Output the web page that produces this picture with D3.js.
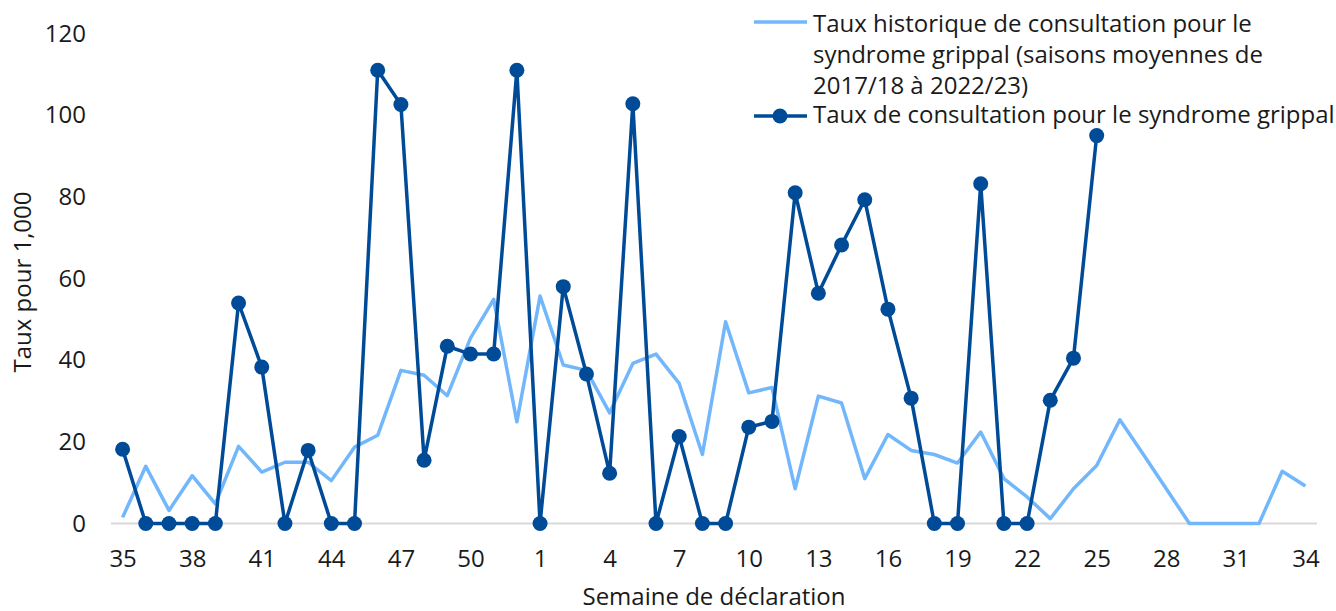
<!DOCTYPE html>
<html>
<head>
<meta charset="utf-8">
<script src="https://cdn.jsdelivr.net/npm/d3@7"></script>
<style>
  body { margin: 0; background: #fff; }
  svg { font-family: 'Open Sans', sans-serif; }
  text { fill: #1a1a1a; }
</style>
</head>
<body>
<svg></svg>
<script>
var width = 1336, height = 611;

// semaines 35..52 puis 1..34
var weeks = ['35','36','37','38','39','40','41','42','43','44','45','46','47','48','49','50','51','52',
  '1','2','3','4','5','6','7','8','9','10','11','12','13','14','15','16','17','18','19','20',
  '21','22','23','24','25','26','27','28','29','30','31','32','33','34'];

var historique = [1.5,14,3.2,11.7,4.8,18.9,12.6,15,15,10.5,18.7,21.6,37.5,36.3,31.3,45.4,54.9,24.9,
  55.7,38.8,37.5,27.1,39.2,41.5,34.3,16.9,49.4,32,33.3,8.5,31.2,29.5,11,21.8,17.9,16.9,14.8,22.4,
  11,6.5,1.2,8.5,14.2,25.4,17,8.5,0,0,0,0,12.8,9.2];

var courant = [18.2,0,0,0,0,54,38.3,0,17.9,0,0,111,102.6,15.5,43.4,41.5,41.5,111,
  0,58,36.6,12.3,102.8,0,21.3,0,0,23.6,25,81,56.4,68.2,79.3,52.5,30.7,0,0,83.2,
  0,0,30.2,40.5,95,null,null,null,null,null,null,null,null,null];

var yTicks = [0, 20, 40, 60, 80, 100, 120];
var xTickWeeks = weeks.filter((d, i) => i % 3 === 0);

var legendLabels = [
  ['Taux historique de consultation pour le', 'syndrome grippal (saisons moyennes de', '2017/18 à 2022/23)'],
  ['Taux de consultation pour le syndrome grippal']
];

var lightBlue = '#72b7fb';
var darkBlue = '#004b98';
var fs = 24;

var svg = d3.select('svg')
    .attr('width', width)
    .attr('height', height);

var x = d3.scalePoint().domain(weeks).range([111, 1317]).padding(0.5);
var y = d3.scaleLinear().domain([0, 120]).range([523.5, 33.5]);

// grille / axe du zéro
svg.append('line')
    .attr('x1', 111).attr('x2', 1317)
    .attr('y1', y(0)).attr('y2', y(0))
    .attr('stroke', '#d9d9d9').attr('stroke-width', 2);

// axe Y
var yAxis = svg.append('g')
    .attr('transform', 'translate(86,0)')
    .call(d3.axisLeft(y).tickValues(yTicks).tickSize(0).tickPadding(0));
yAxis.select('.domain').remove();
yAxis.selectAll('text')
    .attr('font-size', fs).attr('font-family', 'Open Sans').attr('fill', '#1a1a1a');

// axe X
var xAxis = svg.append('g')
    .attr('transform', `translate(0,${y(0)})`)
    .call(d3.axisBottom(x).tickValues(xTickWeeks).tickSize(0).tickPadding(26));
xAxis.select('.domain').remove();
xAxis.selectAll('text')
    .attr('font-size', fs).attr('font-family', 'Open Sans').attr('fill', '#1a1a1a');

// titres d'axes
svg.append('text')
    .attr('x', 714).attr('y', 605)
    .attr('text-anchor', 'middle')
    .attr('font-size', fs)
    .text('Semaine de déclaration');

svg.append('text')
    .attr('transform', 'translate(31,282) rotate(-90)')
    .attr('text-anchor', 'middle')
    .attr('font-size', fs)
    .text('Taux pour 1,000');

// séries
var lineHist = d3.line()
    .x((d, i) => x(weeks[i]))
    .y(d => y(d));

svg.append('path')
    .datum(historique)
    .attr('d', lineHist)
    .attr('fill', 'none')
    .attr('stroke', lightBlue)
    .attr('stroke-width', 3.5)
    .attr('stroke-linejoin', 'round');

var lineCour = d3.line()
    .defined(d => d !== null)
    .x((d, i) => x(weeks[i]))
    .y(d => y(d));

svg.append('path')
    .datum(courant)
    .attr('d', lineCour)
    .attr('fill', 'none')
    .attr('stroke', darkBlue)
    .attr('stroke-width', 3.5)
    .attr('stroke-linejoin', 'round');

svg.selectAll('circle.pt')
    .data(courant.map((v, i) => ({ w: weeks[i], v: v })).filter(d => d.v !== null))
  .enter().append('circle')
    .attr('class', 'pt')
    .attr('cx', d => x(d.w))
    .attr('cy', d => y(d.v))
    .attr('r', 7.5)
    .attr('fill', darkBlue);

// légende
var legend = svg.append('g');
var legendY = [22, 116];
var legendBase = [31.5, 123];
var legendColors = [lightBlue, darkBlue];

legendLabels.forEach((lines, k) => {
  legend.append('line')
    .attr('x1', 754).attr('x2', 807)
    .attr('y1', legendY[k]).attr('y2', legendY[k])
    .attr('stroke', legendColors[k]).attr('stroke-width', 3.5);
  if (k === 1) {
    legend.append('circle')
      .attr('cx', 780).attr('cy', legendY[k]).attr('r', 7.5)
      .attr('fill', darkBlue);
  }
  var t = legend.append('text')
    .attr('x', 813).attr('y', legendBase[k])
    .attr('font-size', fs);
  lines.forEach((l, j) => {
    t.append('tspan')
      .attr('x', 813)
      .attr('dy', j === 0 ? 0 : 31.2)
      .text(l);
  });
});
</script>
</body>
</html>
